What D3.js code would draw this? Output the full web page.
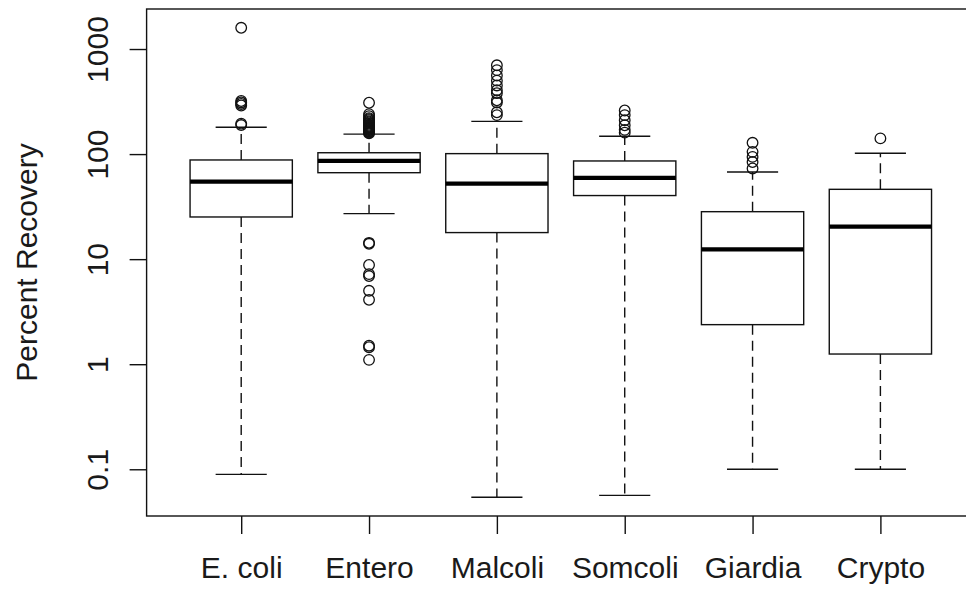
<!DOCTYPE html>
<html>
<head>
<meta charset="utf-8">
<script src="https://cdn.jsdelivr.net/npm/d3@7"></script>
<style>
  html, body { margin: 0; padding: 0; background: #ffffff; }
  svg { display: block; }
  text { font-family: "Liberation Sans", Arial, sans-serif; fill: #1a1a1a; }
</style>
</head>
<body>
<div id="chart"></div>
<script>
const categories = ["E. coli", "Entero", "Malcoli", "Somcoli", "Giardia", "Crypto"];
const q1 = [25.2, 66.5, 17.9, 40.3, 2.38, 1.25];
const medians = [54.6, 86, 52.4, 59.3, 12.4, 20.4];
const q3 = [87.9, 103, 101, 86, 28.3, 46.2];
const whiskerLow = [0.0895, 27.1, 0.0542, 0.0565, 0.1, 0.1];
const whiskerHigh = [180, 155, 205, 148, 67.6, 101.8];
const outliers = [
  [189, 195, 290, 300, 310, 320, 1593],
  [158, 160, 163, 165, 168, 170, 173, 175, 178, 180, 183, 186, 190, 195, 200, 205, 210, 215, 220, 230, 240, 308,
   14.3, 14.0, 8.8, 7.2, 6.9, 5.0, 4.1, 1.5, 1.45, 1.1],
  [235, 250, 310, 325, 380, 405, 450, 500, 560, 630, 700],
  [160, 170, 188, 210, 235, 260],
  [73, 84, 94, 105, 128],
  [141]
];
const yTicks = [0.1, 1, 10, 100, 1000];
const yTickLabels = ["0.1", "1", "10", "100", "1000"];
const yTitle = "Percent Recovery";

const W = 966, H = 590;
const plot = { left: 146.6, right: 975, top: 9, bottom: 516 };
const FS = 30;

const svg = d3.select("#chart").append("svg").attr("width", W).attr("height", H);

// x: band scale reproducing R boxplot layout (xlim 0.5..6.5 padded 4%)
const unit = (plot.right - plot.left) / 6.48;
const x = d3.scaleBand()
  .domain(categories)
  .range([plot.left + 0.24 * unit, plot.left + 6.24 * unit])
  .paddingInner(0.2)
  .paddingOuter(0.1);
const cx = c => x(c) + x.bandwidth() / 2;

// y: log scale, data range padded 4% each side (in log space)
const allVals = [].concat(whiskerLow, whiskerHigh, ...outliers);
const lmin = Math.log10(d3.min(allVals)), lmax = Math.log10(d3.max(allVals));
const pad = (lmax - lmin) * 0.04;
const y = d3.scaleLog()
  .domain([Math.pow(10, lmin - pad), Math.pow(10, lmax + pad)])
  .range([plot.bottom, plot.top]);

const ink = "#111";
const g = svg.append("g");

categories.forEach((c, i) => {
  const xc = cx(c), bw = x.bandwidth();
  // whiskers (dashed)
  g.append("line").attr("x1", xc).attr("x2", xc)
    .attr("y1", y(q3[i])).attr("y2", y(whiskerHigh[i]))
    .attr("stroke", ink).attr("stroke-width", 1.4).attr("stroke-dasharray", "10,6");
  g.append("line").attr("x1", xc).attr("x2", xc)
    .attr("y1", y(q1[i])).attr("y2", y(whiskerLow[i]))
    .attr("stroke", ink).attr("stroke-width", 1.4).attr("stroke-dasharray", "10,6");
  // staples
  [whiskerHigh[i], whiskerLow[i]].forEach(v => {
    g.append("line").attr("x1", xc - bw / 4).attr("x2", xc + bw / 4)
      .attr("y1", y(v)).attr("y2", y(v))
      .attr("stroke", ink).attr("stroke-width", 1.4);
  });
  // box
  g.append("rect").attr("x", x(c)).attr("width", bw)
    .attr("y", y(q3[i])).attr("height", y(q1[i]) - y(q3[i]))
    .attr("fill", "#fff").attr("stroke", ink).attr("stroke-width", 1.4);
  // median
  g.append("line").attr("x1", x(c)).attr("x2", x(c) + bw)
    .attr("y1", y(medians[i])).attr("y2", y(medians[i]))
    .attr("stroke", "#000").attr("stroke-width", 4.2);
  // outliers
  g.selectAll(null).data(outliers[i]).enter().append("circle")
    .attr("cx", xc).attr("cy", d => y(d)).attr("r", 5.3)
    .attr("fill", "none").attr("stroke", ink).attr("stroke-width", 1.3);
});

// frame
svg.append("rect")
  .attr("x", plot.left).attr("y", plot.top)
  .attr("width", plot.right - plot.left).attr("height", plot.bottom - plot.top)
  .attr("fill", "none").attr("stroke", ink).attr("stroke-width", 1.4);

// y axis
const yAxis = d3.axisLeft(y).tickValues(yTicks)
  .tickFormat((d, i) => yTickLabels[i]).tickSize(17).tickPadding(0);
const ya = svg.append("g").attr("transform", `translate(${plot.left},0)`).call(yAxis);
ya.select(".domain").remove();
ya.selectAll(".tick line").attr("stroke", ink).attr("stroke-width", 1.4);
ya.selectAll(".tick text")
  .attr("x", null).attr("dy", null).attr("y", null)
  .attr("text-anchor", "middle")
  .attr("font-size", FS)
  .attr("font-family", "Liberation Sans, Arial, sans-serif")
  .attr("fill", "#1a1a1a")
  .attr("transform", `translate(${108 - plot.left},0) rotate(-90)`);

// x axis
const xp = d3.scalePoint().domain(categories).range([cx(categories[0]), cx(categories[5])]);
const xAxis = d3.axisBottom(xp).tickSize(18).tickPadding(0);
const xa = svg.append("g").attr("transform", `translate(0,${plot.bottom})`).call(xAxis);
xa.select(".domain").remove();
xa.selectAll(".tick line").attr("stroke", ink).attr("stroke-width", 1.4);
xa.selectAll(".tick text")
  .attr("y", 578 - plot.bottom).attr("dy", null)
  .attr("font-size", FS)
  .attr("fill", "#1a1a1a")
  .attr("font-family", "Liberation Sans, Arial, sans-serif");

// y title
svg.append("text")
  .attr("transform", `translate(37,${(plot.top + plot.bottom) / 2}) rotate(-90)`)
  .attr("text-anchor", "middle")
  .attr("font-size", FS)
  .text(yTitle);
</script>
</body>
</html>
